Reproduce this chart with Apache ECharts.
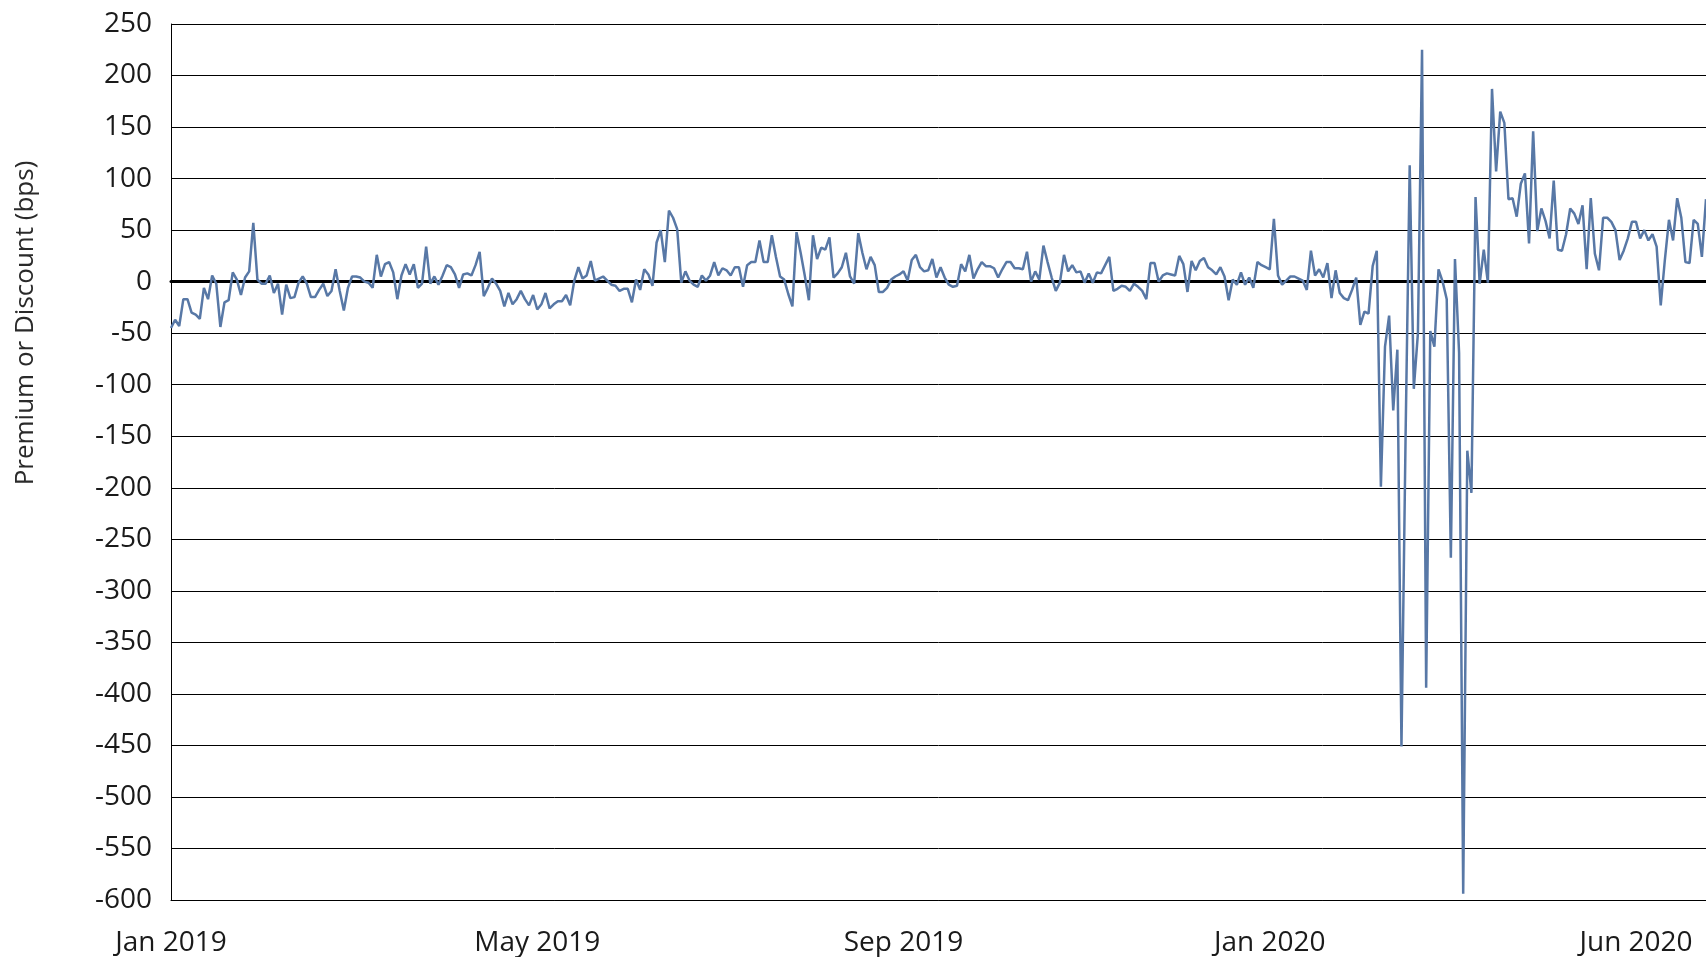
<!DOCTYPE html>
<html>
<head>
<meta charset="utf-8">
<title>Premium or Discount (bps)</title>
<script src="https://cdn.jsdelivr.net/npm/echarts@6/dist/echarts.min.js"></script>
<style>
  html, body { margin: 0; padding: 0; background: #ffffff; }
  #chart { width: 1706px; height: 957px; }
</style>
</head>
<body>
<div id="chart"></div>
<script>
// Axis labels, one per period below (each label sits on the first day of its period)
const tickLabels = ['Jan 2019', 'May 2019', 'Sep 2019', 'Jan 2020', 'Jun 2020'];

// Daily premium (+) / discount (-) to NAV, in basis points
const fromJan2019 = [
  -45, -37, -43, -17, -17, -30, -32, -36, -6, -17,
  6, -2, -44, -20, -18, 9, 2, -13, 4, 10,
  57, 2, -2, -2, 6, -11, -2, -32, -3, -16,
  -15, -1, 5, -2, -15, -15, -8, -2, -14, -9,
  12, -9, -28, -6, 5, 5,
  4, 0, -1, -6, 26, 5, 17, 19, 9, -17,
  6, 17, 7, 17, -6, -2, 34, -2, 5, -3,
  6, 16, 14, 7, -6, 7, 8, 6, 16, 29,
  -14, -6, 3, -2, -9, -24, -11, -22, -17, -9,
  -17, -23, -13
];
const fromMay2019 = [
  -27, -22, -11, -26,
  -22, -19, -19, -13, -23, 1, 14, 3, 6, 20,
  1, 3, 5, 1, -3, -4, -9, -7, -7, -20,
  2, -8, 12, 7, -4, 38, 50, 19, 69, 62,
  51, -1, 10, 1, -3, -5, 6, 1, 6, 19,
  6, 13, 11, 6, 14, 14, -5, 16, 19, 19,
  40, 19, 19, 45, 24, 5, 2, -12, -24, 48,
  28, 6, -18, 45, 22, 33, 31, 43, 4, 8,
  14, 28, 5, -2, 47, 28, 12, 24, 16, -10,
  -10, -6, 2, 5, 7
];
const fromSep2019 = [
  10, 1, 21, 26, 14, 10, 11, 22, 4, 14, 4,
  -3, -5, -4, 17, 10, 26, 3, 12, 19, 15,
  15, 13, 4, 12, 19, 19, 13, 13, 12, 29,
  0, 10, 2, 35, 19, 4, -9, -1, 26, 10,
  16, 9, 10, -1, 8, -1, 9, 8, 16, 24,
  -9, -7, -4, -5, -9, -2,
  -5, -9, -17, 18, 18, 0, 6, 8, 7, 6,
  25, 17, -10, 20, 11, 20, 23, 14, 11, 7,
  14, 5, -18, 2, -3, 9, -3, 4, -6, 19,
  16, 14
];
const fromJan2020 = [
  12, 61, 6, -3, 1, 5, 5, 3, 1, -8, 30, 6, 12, 4,
  18, -16, 11, -11, -16, -18, -8, 4, -42, -29,
  -31, 15, 30, -199, -63, -33, -125, -66, -451, -150,
  113, -104, -50, 225, -394, -48, -63, 12, 0, -17,
  -268, 22, -69, -594, -164, -205, 82, -2, 31, -1,
  187, 107, 165, 154, 80, 81, 63, 95, 105, 37,
  146, 49, 71, 59, 42, 98, 31, 30, 46, 71,
  66, 56, 74, 12, 81, 27, 11, 62, 62, 58,
  50, 21, 30, 42, 58
];
const fromJun2020 = [
  58, 42, 50, 40, 46, 34, -23, 21, 60, 40,
  81, 62, 19, 18, 60, 56, 24, 80
];

const periods = [fromJan2019, fromMay2019, fromSep2019, fromJan2020, fromJun2020];
const premium = [].concat(...periods);

// Category index -> label text, placed at the start of each period
const labelAt = {};
let first = 0;
periods.forEach((p, k) => { labelAt[first] = tickLabels[k]; first += p.length; });
const days = premium.map((_, i) => String(i));

const FONT = '"Open Sans", "Noto Sans", "DejaVu Sans", sans-serif';
const TEXT = '#1a1a1a';

const chart = echarts.init(document.getElementById('chart'), null, { renderer: 'canvas' });
chart.setOption({
  animation: false,
  backgroundColor: '#ffffff',
  grid: { left: 171, right: 0, top: 24, bottom: 55, containLabel: false },
  xAxis: [
    {
      type: 'category',
      data: days,
      boundaryGap: false,
      position: 'bottom',
      axisLine: { show: true, onZero: false, lineStyle: { color: '#000', width: 1 } },
      axisTick: { show: false },
      splitLine: { show: false },
      axisLabel: {
        interval: (i) => labelAt.hasOwnProperty(i),
        formatter: (v, i) => labelAt[i] || '',
        margin: 29,
        fontSize: 28,
        fontFamily: FONT,
        fontWeight: 'normal',
        color: TEXT
      }
    },
    {
      // zero reference line
      type: 'category',
      data: days,
      boundaryGap: false,
      position: 'bottom',
      axisLine: { show: true, onZero: true, lineStyle: { color: '#000', width: 3 } },
      axisTick: { show: false },
      axisLabel: { show: false },
      splitLine: { show: false }
    }
  ],
  yAxis: {
    type: 'value',
    min: -600,
    max: 250,
    interval: 50,
    axisLine: { show: true, lineStyle: { color: '#000', width: 1 } },
    axisTick: { show: false },
    splitLine: { show: true, lineStyle: { color: '#000', width: 1 } },
    axisLabel: {
      margin: 19,
      fontSize: 28,
      fontFamily: FONT,
      fontWeight: 'normal',
      color: TEXT
    }
  },
  graphic: [
    {
      type: 'text',
      x: 26,
      y: 323,
      rotation: Math.PI / 2,
      style: {
        text: 'Premium or Discount (bps)',
        fontSize: 26,
        fontFamily: FONT,
        fontWeight: 'normal',
        fill: '#2a2a2a',
        align: 'center',
        verticalAlign: 'middle'
      }
    }
  ],
  series: [
    {
      type: 'line',
      xAxisIndex: 0,
      data: premium,
      symbol: 'none',
      smooth: false,
      lineStyle: { color: '#5878a6', width: 2.5 },
      z: 5
    }
  ]
});
</script>
</body>
</html>
